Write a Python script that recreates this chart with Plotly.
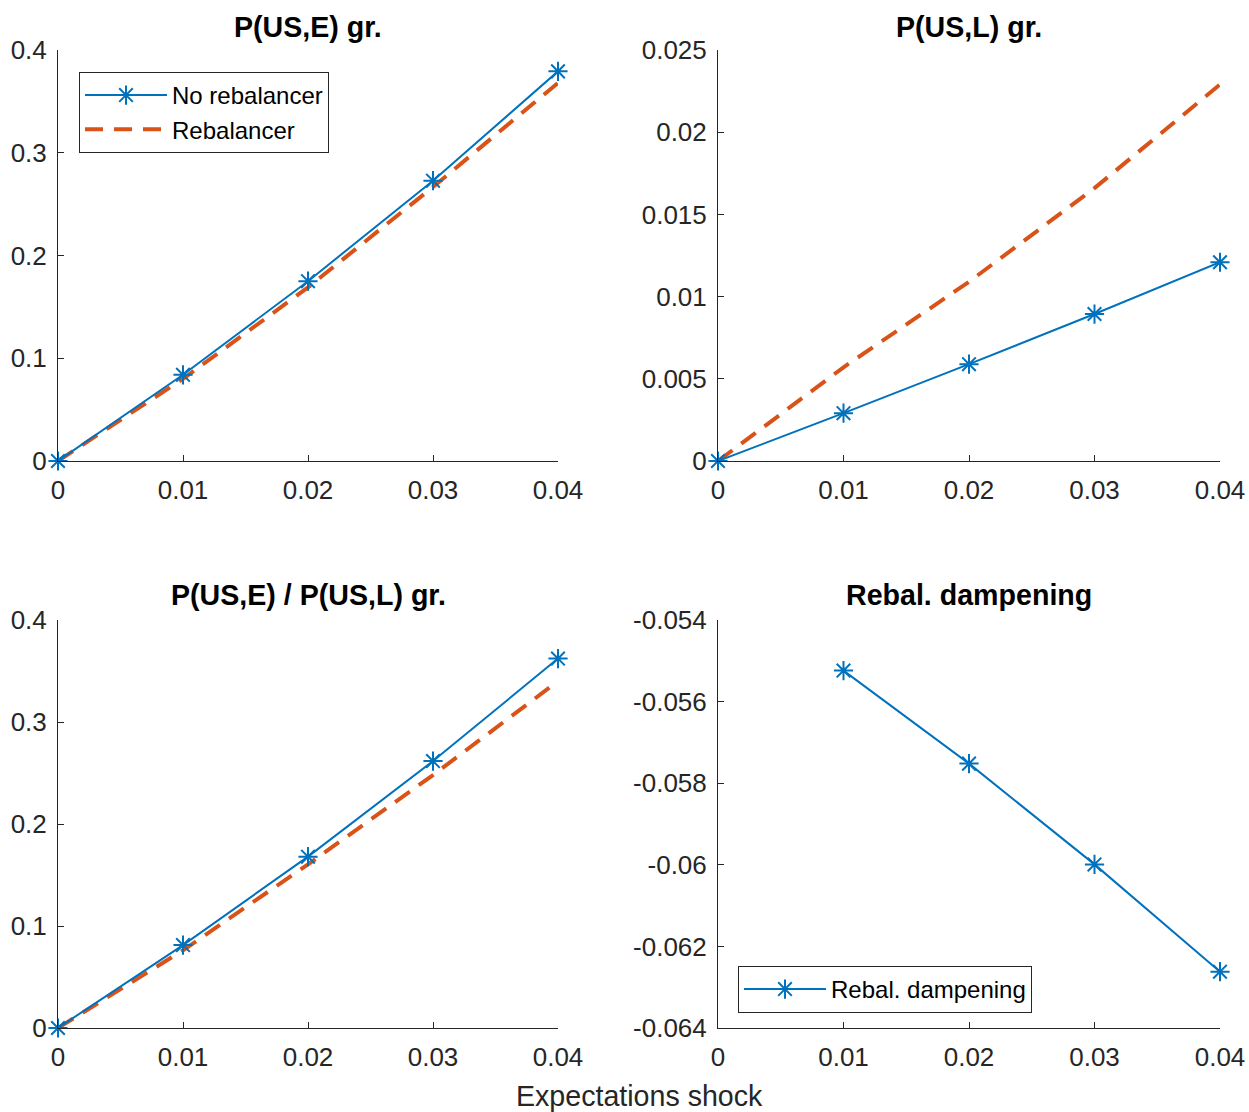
import plotly.graph_objects as go

# ---- data ----
shock = [0, 0.01, 0.02, 0.03, 0.04]
x_ticks = [0, 0.01, 0.02, 0.03, 0.04]
x_ticktext = ["0", "0.01", "0.02", "0.03", "0.04"]

pe_norebal = [0, 0.0839, 0.1750, 0.2728, 0.3792]
pe_rebal = [0, 0.0800, 0.1690, 0.2667, 0.3680]

pl_norebal = [0, 0.00291, 0.00589, 0.00894, 0.01209]
pl_rebal = [0, 0.0057, 0.0109, 0.0166, 0.0229]

ratio_norebal = [0, 0.0813, 0.1680, 0.2617, 0.3622]
ratio_rebal = [0, 0.0762, 0.1605, 0.2480, 0.3400]

damp = [None, -0.05524, -0.05752, -0.05999, -0.06262]

y1_ticks = [0, 0.1, 0.2, 0.3, 0.4]
y1_text = ["0", "0.1", "0.2", "0.3", "0.4"]
y2_ticks = [0, 0.005, 0.01, 0.015, 0.02, 0.025]
y2_text = ["0", "0.005", "0.01", "0.015", "0.02", "0.025"]
y3_ticks = [0, 0.1, 0.2, 0.3, 0.4]
y3_text = ["0", "0.1", "0.2", "0.3", "0.4"]
y4_ticks = [-0.064, -0.062, -0.06, -0.058, -0.056, -0.054]
y4_text = ["-0.064", "-0.062", "-0.06", "-0.058", "-0.056", "-0.054"]

titles = ["P(US,E) gr.", "P(US,L) gr.", "P(US,E) / P(US,L) gr.", "Rebal. dampening"]
xlabel = "Expectations shock"

# ---- style ----
W, H = 1249, 1112
BLUE = "#0072BD"
RED = "#D95319"
AX = "#262626"
FONT = "Liberation Sans, Arial, Helvetica, sans-serif"
TICKF = 26
TITLEF = 28.6
LEGF = 24

def px_x(p):
    return p / W

def px_y(p):
    return (H - p) / H

col_dom = [[px_x(58), px_x(558)], [px_x(718), px_x(1220)]]
row_dom = [[px_y(461), px_y(50)], [px_y(1028), px_y(620)]]

fig = go.Figure()

marker = dict(symbol="asterisk-open", size=16, color=BLUE, line=dict(color=BLUE, width=2))

def add_pair(xa, ya, blue, red, legend_show, legend_name="legend"):
    fig.add_trace(go.Scatter(x=shock, y=red, xaxis=xa, yaxis=ya, mode="lines",
                             line=dict(color=RED, width=4, dash="18px,11px"),
                             name="Rebalancer", showlegend=legend_show, legend=legend_name,
                             legendrank=2, cliponaxis=False))
    fig.add_trace(go.Scatter(x=shock, y=blue, xaxis=xa, yaxis=ya, mode="lines+markers",
                             line=dict(color=BLUE, width=2), marker=marker,
                             name="No rebalancer", showlegend=legend_show, legend=legend_name,
                             legendrank=1, cliponaxis=False))

add_pair("x", "y", pe_norebal, pe_rebal, True)
add_pair("x2", "y2", pl_norebal, pl_rebal, False)
add_pair("x3", "y3", ratio_norebal, ratio_rebal, False)
fig.add_trace(go.Scatter(x=shock, y=damp, xaxis="x4", yaxis="y4", mode="lines+markers",
                         line=dict(color=BLUE, width=2), marker=marker,
                         name="Rebal. dampening", showlegend=True, legend="legend2",
                         cliponaxis=False))

def xaxis(dom, anchor):
    return dict(domain=dom, anchor=anchor, range=[0, 0.04], tickvals=x_ticks, ticktext=x_ticktext,
                showgrid=False, zeroline=False, showline=True, linecolor=AX, linewidth=1,
                ticks="inside", ticklen=6, tickcolor=AX, tickwidth=1, automargin=False,
                tickfont=dict(family=FONT, size=TICKF, color=AX), fixedrange=True,
                ticklabelstandoff=6)

def yaxis(dom, anchor, rng, tv, tt):
    return dict(domain=dom, anchor=anchor, range=rng, tickvals=tv, ticktext=tt,
                showgrid=False, zeroline=False, showline=True, linecolor=AX, linewidth=1,
                ticks="inside", ticklen=6, tickcolor=AX, tickwidth=1, automargin=False,
                tickfont=dict(family=FONT, size=TICKF, color=AX), fixedrange=True,
                ticklabelstandoff=5)

fig.update_layout(
    width=W, height=H,
    margin=dict(l=0, r=0, t=0, b=0, autoexpand=False),
    paper_bgcolor="white", plot_bgcolor="white",
    xaxis=xaxis(col_dom[0], "y"),
    yaxis=yaxis(row_dom[0], "x", [0, 0.4], y1_ticks, y1_text),
    xaxis2=xaxis(col_dom[1], "y2"),
    yaxis2=yaxis(row_dom[0], "x2", [0, 0.025], y2_ticks, y2_text),
    xaxis3=xaxis(col_dom[0], "y3"),
    yaxis3=yaxis(row_dom[1], "x3", [0, 0.4], y3_ticks, y3_text),
    xaxis4=xaxis(col_dom[1], "y4"),
    yaxis4=yaxis(row_dom[1], "x4", [-0.064, -0.054], y4_ticks, y4_text),
    legend=dict(x=px_x(79), y=px_y(72), xanchor="left", yanchor="top",
                bgcolor="white", bordercolor=AX, borderwidth=1,
                font=dict(family=FONT, size=LEGF, color="#000"),
                itemwidth=82, tracegroupgap=0, traceorder="normal"),
    legend2=dict(x=px_x(738), y=px_y(966), xanchor="left", yanchor="top",
                 bgcolor="white", bordercolor=AX, borderwidth=1,
                 font=dict(family=FONT, size=LEGF, color="#000"),
                 itemwidth=82),
    showlegend=True,
)

title_pos = [((58 + 558) / 2, 27), ((718 + 1220) / 2, 27), ((58 + 558) / 2, 595), ((718 + 1220) / 2, 595)]
for t, (cx, cy) in zip(titles, title_pos):
    fig.add_annotation(text="<b>" + t + "</b>", x=px_x(cx), y=px_y(cy), xref="paper", yref="paper",
                       xanchor="center", yanchor="middle", showarrow=False,
                       font=dict(family=FONT, size=TITLEF, color="#000"))

fig.add_annotation(text=xlabel, x=px_x(639), y=px_y(1096), xref="paper", yref="paper",
                   xanchor="center", yanchor="middle", showarrow=False,
                   font=dict(family=FONT, size=TITLEF, color=AX))

fig.write_html("out.html", config={"displayModeBar": False})
